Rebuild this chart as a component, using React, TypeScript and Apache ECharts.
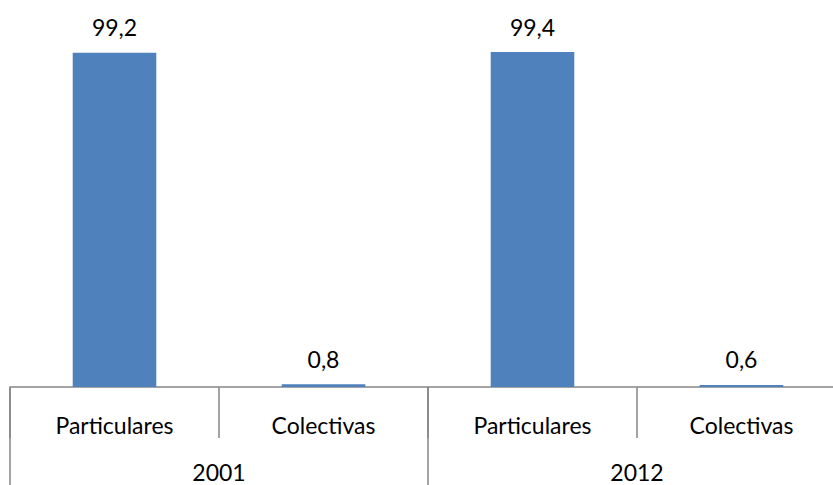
import React, { useEffect, useRef } from "react";
import * as echarts from "echarts";

const subCategories = ["Particulares", "Colectivas", "Particulares", "Colectivas"];
const years = ["2001", "2012"];
const values = [99.2, 0.8, 99.4, 0.6];

const FONT = "Lato";
const AXIS_COLOR = "#868686";

export default function App() {
  const ref = useRef<HTMLDivElement>(null);
  useEffect(() => {
    if (!ref.current) return;
    const chart = echarts.init(ref.current, null, { renderer: "svg" });
    chart.setOption({
      animation: false,
      backgroundColor: "#ffffff",
      grid: {
        left: 10,
        top: 50,
        width: 836,
        height: 337,
        containLabel: false,
        outerBoundsMode: "none",
      },
      xAxis: [
        {
          type: "category",
          data: subCategories,
          position: "bottom",
          offset: 0,
          axisLine: { show: true, lineStyle: { color: AXIS_COLOR, width: 1.5 } },
          axisTick: {
            show: true,
            alignWithLabel: false,
            interval: 0,
            length: 51,
            lineStyle: { color: AXIS_COLOR, width: 1.5 },
          },
          axisLabel: {
            interval: 0,
            margin: 26,
            fontFamily: FONT,
            fontSize: 23,
            color: "#000000",
          },
          splitLine: { show: false },
        },
        {
          type: "category",
          data: years,
          position: "bottom",
          offset: 0,
          axisLine: { show: false },
          axisTick: {
            show: true,
            alignWithLabel: false,
            interval: 0,
            length: 100,
            lineStyle: { color: AXIS_COLOR, width: 1.5 },
          },
          axisLabel: {
            interval: 0,
            margin: 73,
            fontFamily: FONT,
            fontSize: 23,
            color: "#000000",
          },
          splitLine: { show: false },
        },
      ],
      yAxis: {
        type: "value",
        min: 0,
        max: 100,
        show: false,
        splitLine: { show: false },
      },
      series: [
        {
          type: "bar",
          xAxisIndex: 0,
          yAxisIndex: 0,
          data: values,
          barWidth: "40%",
          itemStyle: { color: "#4F81BD" },
          label: {
            show: true,
            position: "top",
            distance: 14,
            fontFamily: FONT,
            fontSize: 23,
            color: "#000000",
            formatter: (p: any) => String(p.value).replace(".", ","),
          },
        },
      ],
    });
    return () => chart.dispose();
  }, []);
  return (
    <div
      ref={ref}
      style={{ position: "fixed", left: 0, top: 0, width: 833, height: 485 }}
    />
  );
}
